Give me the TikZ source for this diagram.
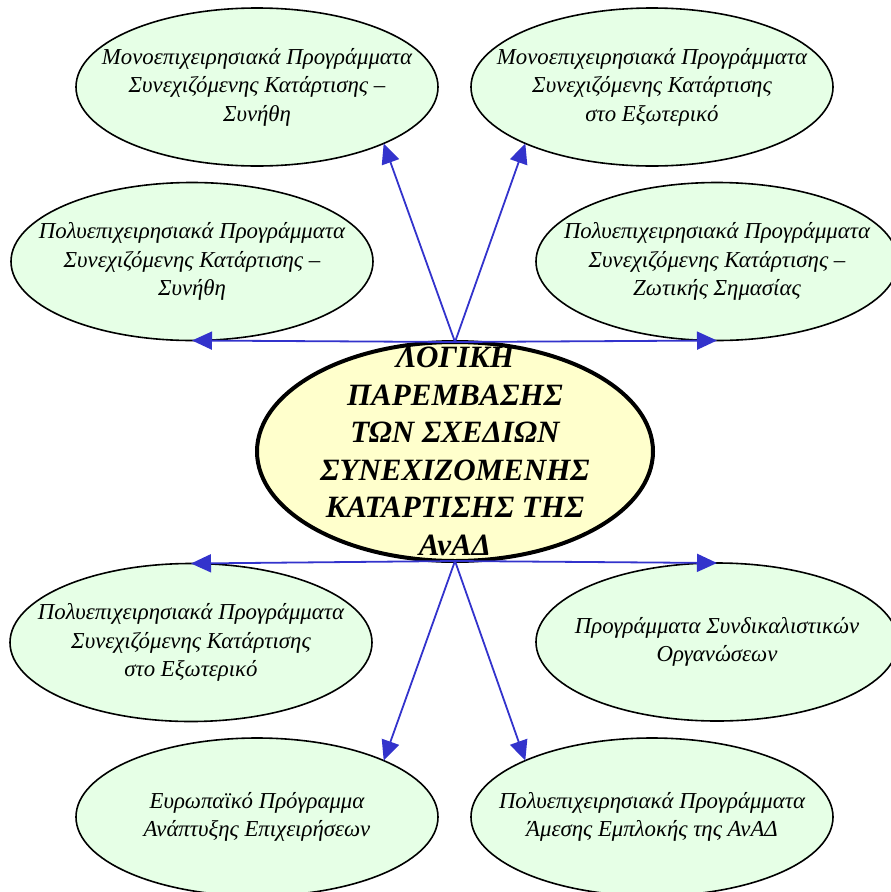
\documentclass[tikz,border=0pt]{standalone}
\usepackage{fontspec}
\setmainfont{Liberation Serif}
\usetikzlibrary{shapes.geometric,arrows.meta}
\definecolor{outerfill}{RGB}{230,255,230}
\definecolor{corefill}{RGB}{255,255,204}
\definecolor{arrowblue}{RGB}{51,51,204}
\begin{document}
\begin{tikzpicture}[x=1pt,y=-1pt,
  outer/.style={ellipse,draw=black,line width=1.6pt,fill=outerfill,minimum width=362pt,minimum height=158pt,inner sep=0pt,outer sep=0pt},
  outertext/.style={align=center,font=\fontsize{22.8}{28.5}\selectfont\itshape,inner sep=0pt},
  core/.style={ellipse,draw=black,line width=4pt,fill=corefill,minimum width=396pt,minimum height=219pt,inner sep=0pt,outer sep=0pt},
  coretext/.style={align=center,font=\fontsize{31}{37.5}\selectfont\bfseries\itshape,inner sep=0pt},
  link/.style={draw=arrowblue,line width=1.8pt,-{Triangle[length=20pt,width=18pt]}}
]
\useasboundingbox (0,0) rectangle (891,892);

\node[outer] (tl) at (257,87) {};
\node[outertext] (tlt) at (tl) {Μονοεπιχειρησιακά Προγράμματα\\Συνεχιζόμενης Κατάρτισης –\\Συνήθη};
\node[outer] (tr) at (652,87) {};
\node[outertext] (trt) at (tr) {Μονοεπιχειρησιακά Προγράμματα\\Συνεχιζόμενης Κατάρτισης\\στο Εξωτερικό};
\node[outer] (ml) at (192,261.5) {};
\node[outertext] (mlt) at (ml) {Πολυεπιχειρησιακά Προγράμματα\\Συνεχιζόμενης Κατάρτισης –\\Συνήθη};
\node[outer] (mr) at (717,261.5) {};
\node[outertext] (mrt) at (mr) {Πολυεπιχειρησιακά Προγράμματα\\Συνεχιζόμενης Κατάρτισης –\\Ζωτικής Σημασίας};
\node[outer] (ll) at (191,642.5) {};
\node[outertext] (llt) at (ll) {Πολυεπιχειρησιακά Προγράμματα\\Συνεχιζόμενης Κατάρτισης\\στο Εξωτερικό};
\node[outer] (lr) at (717,642) {};
\node[outertext] (lrt) at (lr) {Προγράμματα Συνδικαλιστικών\\Οργανώσεων};
\node[outer] (bl) at (257,817) {};
\node[outertext] (blt) at (bl) {Ευρωπαϊκό Πρόγραμμα\\Ανάπτυξης Επιχειρήσεων};
\node[outer] (br) at (652,817) {};
\node[outertext] (brt) at (br) {Πολυεπιχειρησιακά Προγράμματα\\Άμεσης Εμπλοκής της ΑνΑΔ};

\node[core] (core) at (455,451.5) {};
\node[coretext] (coret) at (core) {ΛΟΓΙΚΗ\\ΠΑΡΕΜΒΑΣΗΣ\\ΤΩΝ ΣΧΕΔΙΩΝ\\ΣΥΝΕΧΙΖΟΜΕΝΗΣ\\ΚΑΤΑΡΤΙΣΗΣ ΤΗΣ\\ΑνΑΔ};

\draw[link] (core.north) -- (ml.south);
\draw[link] (core.north) -- (mr.south);
\draw[link] (core.north) -- (tl.-24);
\draw[link] (core.north) -- (tr.-156);
\draw[link] (core.south) -- (ll.north);
\draw[link] (core.south) -- (lr.north);
\draw[link] (core.south) -- (bl.24);
\draw[link] (core.south) -- (br.156);
\end{tikzpicture}
\end{document}
